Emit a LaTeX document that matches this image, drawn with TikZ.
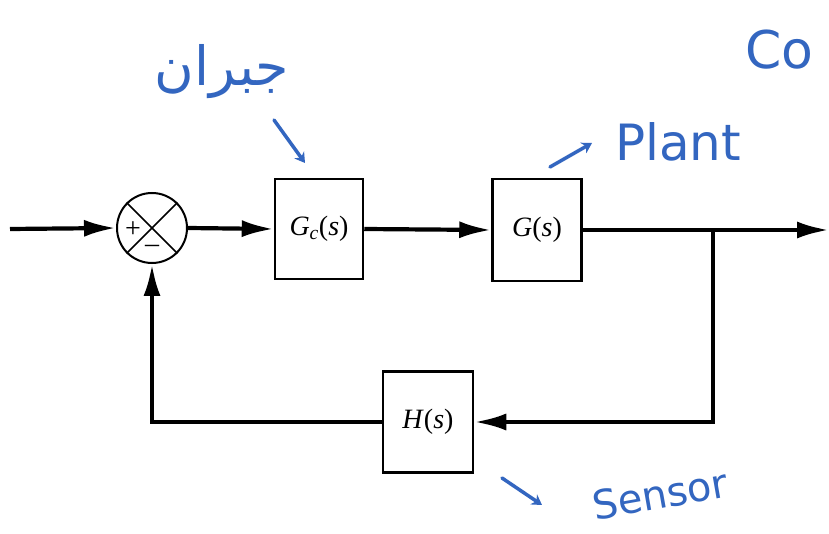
\documentclass[tikz,border=0pt]{standalone}
\usepackage{fontspec}
\usetikzlibrary{arrows.meta}
\TeXXeTstate=1
\newfontfamily\arabicfont[Script=Arabic]{DejaVu Sans}
\newfontfamily\handfont{DejaVu Sans}
\newfontfamily\boxfont{Liberation Serif}
\newcommand{\tfname}[2]{\textit{#1}#2(\textit{s})}
\definecolor{ink}{RGB}{51,102,192}
\begin{document}
\begin{tikzpicture}[x=1pt,y=-1pt,
  blockbox/.style={draw,line width=2.5pt,minimum width=88pt,minimum height=100pt,inner sep=0pt,font=\fontsize{28}{30}\selectfont\boxfont},
  sumnode/.style={draw,circle,line width=2pt,minimum size=70pt,inner sep=0pt},
  sig/.style={line width=4.2pt,-{Latex[length=32pt,width=17pt]}},
  hand/.style={ink,font=\handfont},
  handarrow/.style={ink,line width=3.5pt,line cap=round,-{Stealth[length=10pt,width=12pt]}}]
\useasboundingbox (0,0) rectangle (829,534);
\fill[white] (0,0) rectangle (829,534);
% blocks
\node[sumnode] (sum) at (152,228) {};
\draw[line width=1.6pt] (sum.north west) -- (sum.south east);
\draw[line width=1.6pt] (sum.north east) -- (sum.south west);
\node[font=\fontsize{28}{30}\selectfont\boxfont,inner sep=0pt] (plus) at (133,230) {+};
\node[font=\fontsize{28}{30}\selectfont\boxfont,inner sep=0pt] (minus) at (152,249) {–};
\node[blockbox] (gc) at (319,229) {\tfname{G}{\textsubscript{\textit{c}}}};
\node[blockbox,minimum width=89pt,minimum height=102pt] (g) at (537,230) {\tfname{G}{}};
\node[blockbox,minimum width=90pt,minimum height=101pt] (h) at (428,422) {\tfname{H}{}};
\coordinate (in) at (10,229);
\coordinate (out) at (829,230);
\coordinate (br) at (713,230);
% signals
\draw[sig] (in) -- (sum.west);
\draw[sig] (sum.east) -- (gc.west);
\draw[sig] (gc.east) -- (g.west);
\draw[sig] (g.east) -- (out);
\draw[sig] (br) |- (h.east);
\draw[sig] (h.west) -| (sum.south);
% handwritten annotations
\node[hand,font=\fontsize{50}{56}\selectfont\handfont] (plant) at (678,142) {Plant};
\node[hand,font=\fontsize{40}{46}\selectfont\handfont,rotate=10,anchor=center] (sensor) at (660,494) {Sensor};
\node[hand,font=\fontsize{52}{58}\selectfont\handfont,anchor=west] (co) at (742,50) {Co};
\node[hand,font=\fontsize{54}{60}\selectfont\arabicfont] (jobran) at (222,72) {\beginR جبران\endR};
\coordinate (pa1) at (550,167);
\coordinate (pa2) at (592,143);
\draw[handarrow] (pa1) -- (pa2);
\coordinate (sa1) at (502,478);
\coordinate (sa2) at (542,505);
\draw[handarrow] (sa1) -- (sa2);
\coordinate (ja1) at (274,120);
\coordinate (ja2) at (305,163);
\draw[handarrow] (ja1) -- (ja2);
\end{tikzpicture}
\end{document}
